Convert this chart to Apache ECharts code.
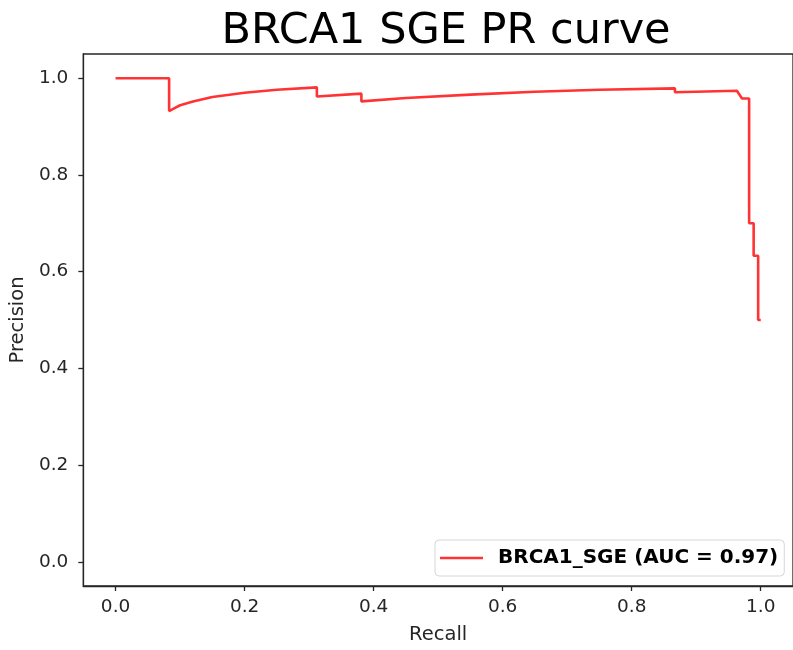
<!DOCTYPE html>
<html>
<head>
<meta charset="utf-8">
<script src="https://cdn.jsdelivr.net/npm/echarts@6/dist/echarts.min.js"></script>
<style>
  html, body { margin: 0; padding: 0; background: #fff; }
  #chart { width: 793px; height: 650px; }
</style>
</head>
<body>
<div id="chart"></div>
<script>
// recall / precision (duplicated recall = vertical drop)
var recall = [0.0, 0.083, 0.083, 0.09, 0.10, 0.12, 0.15, 0.20, 0.25, 0.312, 0.312, 0.381, 0.381,
              0.45, 0.55, 0.65, 0.75, 0.867, 0.867, 0.963, 0.971, 0.982, 0.982,
              0.989, 0.989, 0.996, 0.996, 1.0];
var precision = [1.0, 1.0, 0.932, 0.937, 0.944, 0.952, 0.961, 0.970, 0.976, 0.981, 0.962, 0.968, 0.952,
                 0.959, 0.966, 0.972, 0.976, 0.979, 0.971, 0.974, 0.958, 0.958, 0.700,
                 0.700, 0.633, 0.633, 0.500, 0.500];
var tickVals = [0.0, 0.2, 0.4, 0.6, 0.8, 1.0];
var seriesName = 'BRCA1_SGE (AUC = 0.97)';

var pts = [];
for (var i = 0; i < recall.length; i++) {
    pts.push([recall[i], precision[i]]);
}

var font = 'DejaVu Sans';
var axisCol = '#262626';
var chart = echarts.init(document.getElementById('chart'));

function axisCfg(name, gap, margin) {
    return {
        type: 'value', min: -0.05, max: 1.05,
        name: name, nameLocation: 'middle', nameGap: gap,
        nameTextStyle: { fontFamily: font, fontSize: 19.5, color: axisCol },
        axisLine: { show: true, onZero: false, lineStyle: { color: axisCol, width: 1.3 } },
        axisTick: { show: true, length: 5, customValues: tickVals, lineStyle: { color: axisCol, width: 1.3 } },
        axisLabel: {
            customValues: tickVals, margin: margin,
            fontFamily: font, fontSize: 18.5, color: axisCol,
            formatter: function (v) { return v.toFixed(1); }
        },
        splitLine: { show: false }
    };
}

var option = {
    animation: false,
    title: {
        text: 'BRCA1 SGE PR curve',
        left: 441,
        textAlign: 'center',
        top: 5,
        textStyle: { fontFamily: font, fontSize: 43, fontWeight: 'normal', color: '#000' }
    },
    grid: {
        left: 82, top: 54, width: 714, height: 533,
        show: true, borderColor: axisCol, borderWidth: 1.3
    },
    legend: {
        left: 435, top: 540,
        padding: [8, 6, 8, 5],
        borderColor: '#d6d6d6', borderWidth: 1, borderRadius: 4,
        backgroundColor: '#fff',
        icon: 'rect',
        itemWidth: 43, itemHeight: 2.6,
        data: [seriesName],
        textStyle: { fontFamily: font, fontSize: 20, fontWeight: 'bold', color: '#000', padding: [0, 0, 0, 10] }
    },
    xAxis: axisCfg('Recall', 39, 12),
    yAxis: axisCfg('Precision', 54, 15),
    series: [{
        name: seriesName,
        type: 'line',
        data: pts,
        symbol: 'none',
        lineStyle: { color: '#ff3333', width: 2.6 },
        itemStyle: { color: '#ff3333' }
    }]
};
chart.setOption(option);
</script>
</body>
</html>
